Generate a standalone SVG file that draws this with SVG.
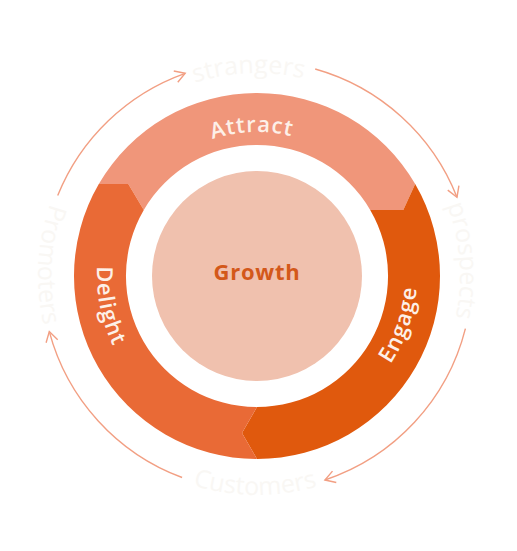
<svg xmlns="http://www.w3.org/2000/svg" xmlns:xlink="http://www.w3.org/1999/xlink" width="517" height="551" viewBox="0 0 517 551">
  <style>
    .outer { font-family: "Open Sans", "Liberation Sans", sans-serif; font-size: 25px; font-weight: 400; fill: #f9f7f4; }
    .seg { font-family: "Open Sans", "Liberation Sans", sans-serif; font-size: 22px; font-weight: 600; fill: #fdf0e8; letter-spacing: 1px; }
    .conn { fill: none; stroke: #f29f83; stroke-width: 1.4; marker-end: url(#ah); }
  </style>
  <defs>
    <marker id="ah" viewBox="-12 -8 14 16" refX="0" refY="0" markerWidth="14" markerHeight="16" orient="auto" markerUnits="userSpaceOnUse">
      <path d="M-10,-6 L0,0 L-10,6" fill="none" stroke="#f29f83" stroke-width="1.4"/>
    </marker>
    <path id="cwTop203" d="M 54,276 A 203 203 0 0 1 460,276"/>
    <path id="ccwBot219" d="M 38,276 A 219 219 0 0 0 476,276"/>
    <path id="cwTop144" d="M 113,276 A 144 144 0 0 1 401,276"/>
    <path id="ccwBot160" d="M 97,276 A 160 160 0 0 0 417,276"/>
  </defs>

  <rect width="517" height="551" fill="#ffffff"/>

  <g id="attract">
    <path d="M 98.8,184 A 183 183 0 0 1 415.2,184 L 403.3,210 L 370.2,210 A 131 131 0 0 0 143.8,210 L 128.3,184 Z" fill="#f0967a"/>
    <g transform="rotate(-2 257 276)">
      <text class="seg"><textPath href="#cwTop144" xlink:href="#cwTop144" startOffset="50%" text-anchor="middle">Attract</textPath></text>
    </g>
  </g>

  <g id="engage">
    <path d="M 415.2,184 A 183 183 0 0 1 257,459 L 242,433 L 257,407 A 131 131 0 0 0 370.2,210 L 403.3,210 Z" fill="#e0590d"/>
    <g transform="rotate(-71.2 257 276)">
      <text class="seg"><textPath href="#ccwBot160" xlink:href="#ccwBot160" startOffset="50%" text-anchor="middle">Engage</textPath></text>
    </g>
  </g>

  <g id="delight">
    <path d="M 257,459 A 183 183 0 0 1 98.8,184 L 128.3,184 L 143.8,210 A 131 131 0 0 0 257,407 L 242,433 Z" fill="#e96a36"/>
    <g transform="rotate(78.6 257 276)">
      <text class="seg"><textPath href="#ccwBot160" xlink:href="#ccwBot160" startOffset="50%" text-anchor="middle">Delight</textPath></text>
    </g>
  </g>

  <g id="growth">
    <circle cx="257" cy="276" r="105" fill="#f0c1ae"/>
    <text x="257" y="280" text-anchor="middle" font-family="Open Sans, Liberation Sans, sans-serif" font-size="22" font-weight="700" letter-spacing="0.8" fill="#d3581a">Growth</text>
  </g>

  <g id="strangers">
    <g transform="rotate(-2.3 257 276)">
      <text class="outer"><textPath href="#cwTop203" xlink:href="#cwTop203" startOffset="50%" text-anchor="middle">strangers</textPath></text>
    </g>
  </g>
  <g id="prospects">
    <g transform="rotate(85.7 257 276)">
      <text class="outer"><textPath href="#cwTop203" xlink:href="#cwTop203" startOffset="50%" text-anchor="middle">prospects</textPath></text>
    </g>
  </g>
  <g id="customers">
    <g transform="rotate(0.5 257 276)">
      <text class="outer"><textPath href="#ccwBot219" xlink:href="#ccwBot219" startOffset="50%" text-anchor="middle">Customers</textPath></text>
    </g>
  </g>
  <g id="promoters">
    <g transform="rotate(93.1 257 276)">
      <text class="outer"><textPath href="#ccwBot219" xlink:href="#ccwBot219" startOffset="50%" text-anchor="middle">Promoters</textPath></text>
    </g>
  </g>

  <g id="connectors">
    <path class="conn" d="M 57.7,195.5 A 215 215 0 0 1 185.2,73.3"/>
    <path class="conn" d="M 315.2,69.0 A 215 215 0 0 1 457.0,197.2"/>
    <path class="conn" d="M 465.4,328.7 A 215 215 0 0 1 324.9,480.0"/>
    <path class="conn" d="M 182.1,477.5 A 215 215 0 0 1 49.3,331.6"/>
  </g>
</svg>
